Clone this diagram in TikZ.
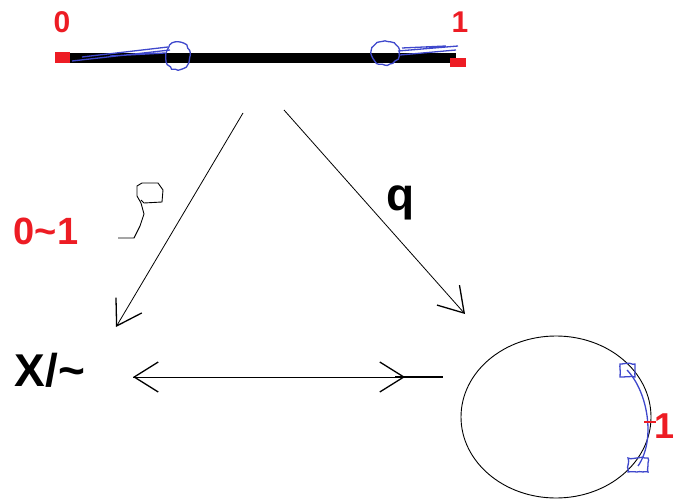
\documentclass[tikz,border=0pt]{standalone}
\usepackage{fontspec}
\setmainfont{Liberation Sans}
\usetikzlibrary{arrows.meta,shapes.geometric,decorations.pathmorphing}
\definecolor{paintred}{RGB}{237,28,36}
\definecolor{paintblue}{RGB}{63,72,204}

\begin{document}
\begin{tikzpicture}[x=1pt,y=-1pt,
    >={Straight Barb[length=24pt,width=30pt,line width=1.3pt]},
    redlab/.style={text=paintred,font=\bfseries\fontsize{30}{30}\selectfont},
    biglab/.style={font=\bfseries\fontsize{46}{46}\selectfont},
    scribble/.style={paintblue,line width=1.3pt},
    blob/.style={scribble,decorate,decoration={random steps,segment length=3pt,amplitude=0.8pt}},
    mapline/.style={->,line width=0.8pt}]
    \useasboundingbox (0,0) rectangle (676,502);

    % the interval [0,1]
    \coordinate (barL) at (70,58);
    \coordinate (barR) at (456,58);
    \draw[line width=10pt] (barL) -- (barR);
    \fill[paintred] (55,52) rectangle (70,63);
    \fill[paintred] (450,58) rectangle (466,67);
    \node[redlab] (zero) at (62,22) {0};
    \node[redlab] (one) at (460,22) {1};

    % blue scribbles near the end points
    \draw[scribble] (72,61) -- (170,50) (82,57) -- (168,47) (110,56) -- (165,53);
    \draw[blob] (178,56) circle[x radius=12,y radius=14];
    \draw[scribble] (398,51) -- (458,46) (400,55) -- (456,50) (402,48) -- (446,46);
    \draw[blob] (385,53) circle[x radius=14,y radius=12];

    % quotient map to X/~
    \coordinate (sL) at (243,113);
    \coordinate (eL) at (116,327);
    \draw[mapline] (sL) -- (eL);
    \node[redlab,font=\bfseries\fontsize{38}{38}\selectfont] (lab01) at (46,231) {0\char`~1};
    \draw[line width=0.9pt] (118,238) -- (134,238) -- (140,226) -- (144,214) -- (141,203)
      -- (137,196) -- (137,186) -- (142,183) -- (158,183) -- (163,190) -- (162,202) -- (144,203) -- (141,200);

    % map q to the circle
    \coordinate (sR) at (284,110);
    \coordinate (eR) at (465,314);
    \draw[mapline] (sR) -- (eR);
    \node[biglab] (qlab) at (401,203) {q};

    % X/~ and the circle
    \node[biglab] (quot) at (50,370) {X/\char`~};
    \node[draw,ellipse,line width=0.9pt,minimum width=190pt,minimum height=162pt] (circ) at (556,417) {};
    \coordinate (dL) at (133,377);
    \coordinate (dR) at (443,377);
    \draw[<-,line width=0.8pt] (dL) -- (405,377);
    \draw[line width=1.5pt] (395,377) -- (dR);
    \draw[->,line width=0.8pt] (dL) -- (405,377);

    % the point 1 on the circle
    \draw[scribble] (627,370) .. controls (648,392) and (656,440) .. (638,466);
    \draw[blob] (620,364) rectangle (635,377);
    \draw[blob] (628,458) rectangle (648,472);
    \draw[paintred,line width=2pt] (644,422) -- (656,422);
    \node[redlab,font=\bfseries\fontsize{36}{36}\selectfont] (pt1) at (664,426) {1};
\end{tikzpicture}
\end{document}
